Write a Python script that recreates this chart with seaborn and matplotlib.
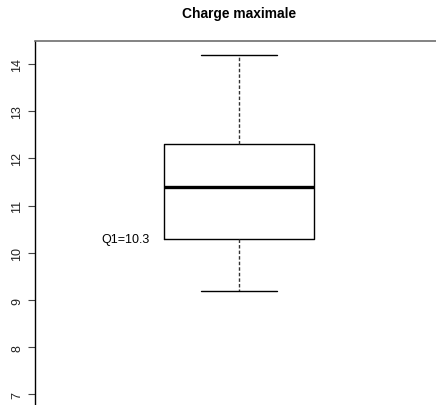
import numpy as np
import pandas as pd
import matplotlib
matplotlib.use("Agg")
import matplotlib.pyplot as plt
import seaborn as sns

# Five-number summary of the maximum load
charge = [9.2, 10.3, 11.4, 12.3, 14.2]
y_ticks = [7, 8, 9, 10, 11, 12, 13, 14]
title = "Charge maximale"

sns.set_style("white")
plt.rcParams["font.family"] = ["Liberation Sans", "DejaVu Sans"]
plt.rcParams["text.color"] = "black"

df = pd.DataFrame({"charge": charge})

fig = plt.figure(figsize=(4.36, 4.06), dpi=100)
ax = fig.add_axes([35 / 436, -3 / 406, 408 / 436, 367 / 406])

sns.boxplot(
    data=df, y="charge", ax=ax, width=0.8, fill=False, color="black",
    linewidth=1.0, whis=1.5,
    boxprops=dict(linewidth=1.0, color="black"),
    medianprops=dict(linewidth=2.4, color="black"),
    whiskerprops=dict(linewidth=1.0, color="#333333", linestyle=(0, (2.5, 1.5))),
    capprops=dict(linewidth=1.0, color="black"),
)

ax.set_xlim(-1.081, 1.081)
ax.set_ylim(6.712, 14.488)
ax.set_yticks(y_ticks)
ax.set_yticklabels([str(t) for t in y_ticks], rotation=90, va="center",
                   fontsize=9, color="#222222")
ax.set_xticks([])
ax.set_xlabel("")
ax.set_ylabel("")
ax.tick_params(axis="y", left=True, length=5, width=0.8, pad=3.5, color="#444444")

for side in ["right", "bottom"]:
    ax.spines[side].set_visible(False)
ax.spines["left"].set_color("black")
ax.spines["left"].set_linewidth(1.0)
ax.spines["top"].set_color("#6e6e6e")
ax.spines["top"].set_linewidth(1.2)

q1 = np.percentile(charge, 25)
ax.annotate(f"Q1={q1:.1f}", xy=(-0.4, q1), xytext=(-10, 0),
            textcoords="offset points", ha="right", va="center",
            fontsize=9, color="black")

fig.text(239 / 436, 1 - 14 / 406, title, ha="center", va="center",
         fontsize=9.9, fontweight="bold", color="black")

fig.savefig("out.png", dpi=100)
